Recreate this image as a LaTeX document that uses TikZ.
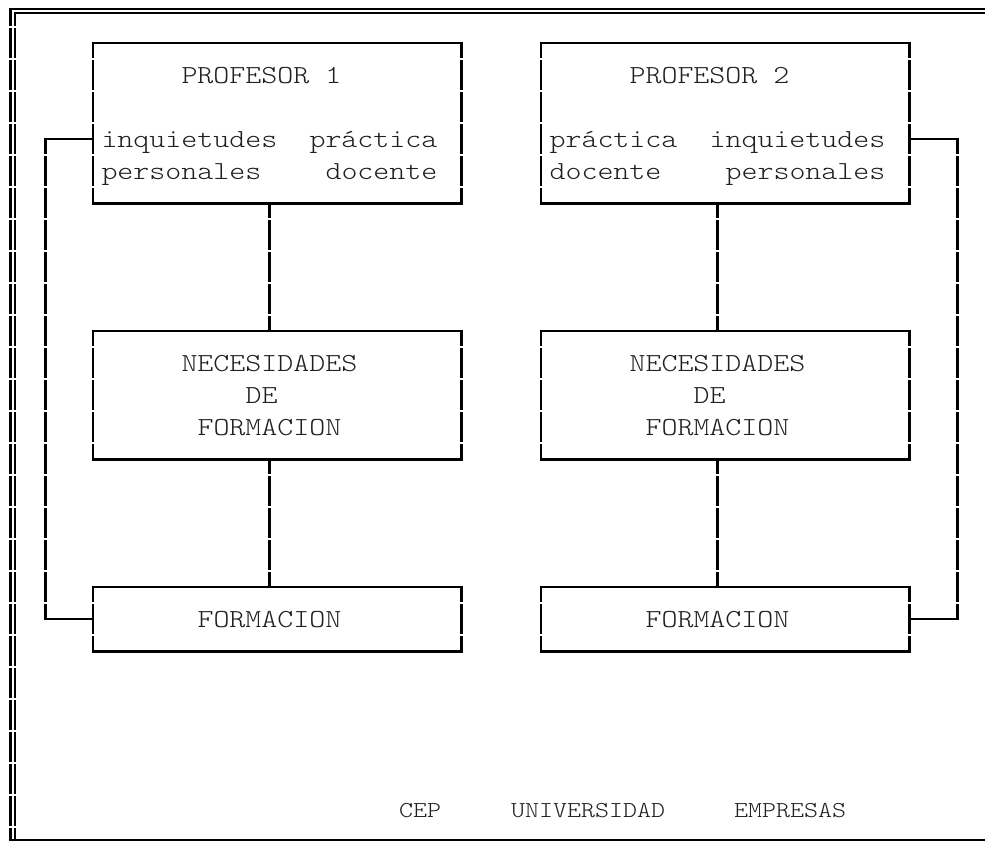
\documentclass[tikz,border=0pt]{standalone}
\usepackage{fontspec}
% Typewriter face widened to a 16pt character pitch
\newfontfamily\typewriter[FakeStretch=1.172]{lmmonolt10-regular.otf}
\begin{document}
\begin{tikzpicture}[x=1pt,y=-1pt,
  hline/.style={line width=2.6pt, line cap=rect},
  vline/.style={line width=2.6pt, dash pattern=on 30pt off 2pt, dash phase=15pt},
  frameh/.style={line width=2.1pt},
  framev/.style={line width=2.5pt, dash pattern=on 30pt off 2pt},
  box/.style={rectangle, inner sep=0pt, minimum width=368pt},
  lbl/.style={anchor=base west, inner sep=0pt, text=black!88,
    font=\typewriter\fontsize{26}{32}\selectfont},
  foot/.style={lbl, font=\typewriter\fontsize{22.75}{28}\selectfont}]

% page
\fill[white] (0,0) rectangle (985,841);
\useasboundingbox (0,0) rectangle (985,841);

% outer frame: double line on top and left, single line at the bottom
\draw[frameh] (985,9.3) -- (9.45,9.3);
\draw[frameh] (985,13.3) -- (13.75,13.3);
\draw[framev, dash phase=13.3pt] (10.7,9.3) -- (10.7,841);
\draw[framev, dash phase=17.3pt] (15,13.3) -- (15,841);
\draw[line width=2.5pt] (9.45,840) -- (985,840);

% boxes
\node[box, minimum height=160pt] (p1) at (277.3,123) {};
\node[box, minimum height=128pt] (n1) at (277.3,395) {};
\node[box, minimum height=64pt]  (f1) at (277.3,619) {};
\node[box, minimum height=160pt] (p2) at (725.3,123) {};
\node[box, minimum height=128pt] (n2) at (725.3,395) {};
\node[box, minimum height=64pt]  (f2) at (725.3,619) {};

\foreach \b in {p1,n1,f1,p2,n2,f2}{
  \draw[hline] (\b.north west) -- (\b.north east);
  \draw[hline] (\b.south west) -- (\b.south east);
  \draw[vline] (\b.north west) -- (\b.south west);
  \draw[vline] (\b.north east) -- (\b.south east);
}

% box texts
\node[lbl] (t1)  at (181.3,83)  {PROFESOR 1};
\node[lbl] (t2)  at (101.3,147) {inquietudes};
\node[lbl] (t3)  at (309.3,147) {práctica};
\node[lbl] (t4)  at (101.3,179) {personales};
\node[lbl] (t5)  at (325.3,179) {docente};
\node[lbl] (t6)  at (181.3,371) {NECESIDADES};
\node[lbl] (t7)  at (245.3,403) {DE};
\node[lbl] (t8)  at (197.3,435) {FORMACION};
\node[lbl] (t9)  at (197.3,627) {FORMACION};

\node[lbl] (u1)  at (629.3,83)  {PROFESOR 2};
\node[lbl] (u2)  at (549.3,147) {práctica};
\node[lbl] (u3)  at (709.3,147) {inquietudes};
\node[lbl] (u4)  at (549.3,179) {docente};
\node[lbl] (u5)  at (725.3,179) {personales};
\node[lbl] (u6)  at (629.3,371) {NECESIDADES};
\node[lbl] (u7)  at (693.3,403) {DE};
\node[lbl] (u8)  at (645.3,435) {FORMACION};
\node[lbl] (u9)  at (645.3,627) {FORMACION};

% vertical links between the boxes of each column
\coordinate (k1) at (269.3,0);
\coordinate (k2) at (717.3,0);
\draw[vline] (p1.south -| k1) -- (n1.north -| k1);
\draw[vline] (n1.south -| k1) -- (f1.north -| k1);
\draw[vline] (p2.south -| k2) -- (n2.north -| k2);
\draw[vline] (n2.south -| k2) -- (f2.north -| k2);

% feedback loops from FORMACION back to the teacher
\coordinate (l1) at (45.3,139);
\coordinate (l2) at (45.3,619);
\draw[hline] (p1.west |- l1) -- (l1);
\draw[vline] (l1) -- (l2);
\draw[hline] (l2) -- (f1.west);

\coordinate (r1) at (957.3,139);
\coordinate (r2) at (957.3,619);
\draw[hline] (p2.east |- r1) -- (r1);
\draw[vline] (r1) -- (r2);
\draw[hline] (r2) -- (f2.east);

% footer
\node[foot] (c1) at (399,817) {CEP};
\node[foot] (c2) at (511,817) {UNIVERSIDAD};
\node[foot] (c3) at (734,817) {EMPRESAS};
\end{tikzpicture}
\end{document}
